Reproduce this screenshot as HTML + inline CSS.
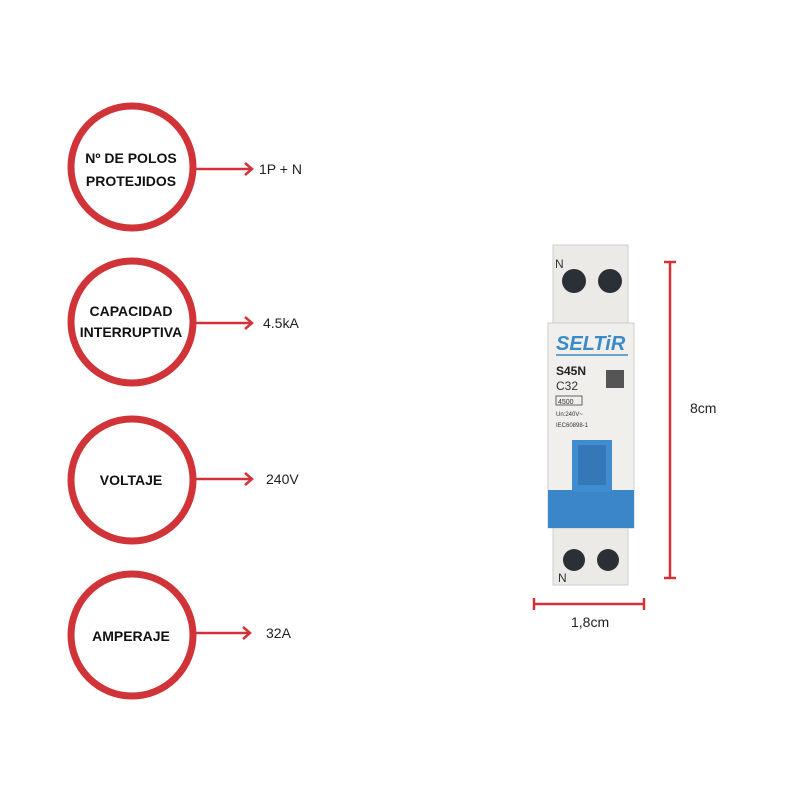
<!DOCTYPE html>
<html><head><style>
body{margin:0;width:800px;height:800px;background:#fff;overflow:hidden;font-family:"Liberation Sans",sans-serif}
</style></head><body>
<svg width="800" height="800" viewBox="0 0 800 800" xmlns="http://www.w3.org/2000/svg">
<g fill="none" stroke="#d13438" stroke-width="7">
<circle cx="132" cy="167" r="61"/>
<circle cx="132" cy="322" r="61"/>
<circle cx="132" cy="480" r="61"/>
<circle cx="132" cy="635" r="61"/>
</g>
<g stroke="#d13438" stroke-width="2.5" fill="none">
<line x1="195" y1="169" x2="252" y2="169"/><polyline points="245,163 252,169 245,175"/>
<line x1="195" y1="323" x2="252" y2="323"/><polyline points="245,317 252,323 245,329"/>
<line x1="195" y1="479" x2="252" y2="479"/><polyline points="245,473 252,479 245,485"/>
<line x1="195" y1="633" x2="250" y2="633"/><polyline points="243,627 250,633 243,639"/>
</g>
<g font-family="Liberation Sans,sans-serif" font-weight="bold" font-size="14" fill="#111" text-anchor="middle">
<text x="131" y="163">Nº DE POLOS</text><text x="131" y="186">PROTEJIDOS</text>
<text x="131" y="316">CAPACIDAD</text><text x="131" y="337">INTERRUPTIVA</text>
<text x="131" y="485">VOLTAJE</text>
<text x="131" y="641">AMPERAJE</text>
</g>
<g font-size="14" fill="#222">
<text x="259" y="174">1P + N</text>
<text x="263" y="328">4.5kA</text>
<text x="266" y="484">240V</text>
<text x="266" y="638">32A</text>
<text x="690" y="413">8cm</text>
<text x="571" y="627">1,8cm</text>
</g>
<g stroke="#d13438" stroke-width="2.5">
<line x1="670" y1="262" x2="670" y2="578"/><line x1="664" y1="262" x2="676" y2="262"/><line x1="664" y1="578" x2="676" y2="578"/>
<line x1="534" y1="604" x2="644" y2="604"/><line x1="534" y1="598" x2="534" y2="610"/><line x1="644" y1="598" x2="644" y2="610"/>
</g>
<!-- breaker -->
<rect x="553" y="245" width="75" height="340" fill="#eceae6" stroke="#ccc"/>
<rect x="548" y="323" width="86" height="205" fill="#f0efec" stroke="#ccc"/>
<circle cx="574" cy="281" r="12" fill="#2a3036"/><circle cx="610" cy="281" r="12" fill="#2a3036"/>
<circle cx="574" cy="560" r="11" fill="#2a3036"/><circle cx="608" cy="560" r="11" fill="#2a3036"/>
<text x="555" y="268" font-size="12" fill="#333">N</text>
<text x="558" y="582" font-size="12" fill="#333">N</text>
<text x="556" y="350" font-size="20" font-style="italic" font-weight="bold" fill="#3a8cc8">SELTiR</text>
<line x1="556" y1="355" x2="628" y2="355" stroke="#3a8cc8" stroke-width="1.5"/>
<text x="556" y="375" font-size="12" font-weight="bold" fill="#222">S45N</text>
<text x="556" y="390" font-size="12" fill="#333">C32</text>
<rect x="606" y="370" width="18" height="18" fill="#555"/>
<rect x="556" y="396" width="26" height="9" fill="none" stroke="#444" stroke-width="0.8"/>
<text x="558" y="404" font-size="7" fill="#333">4500</text>
<text x="556" y="416" font-size="6" fill="#333">Un:240V~</text>
<text x="556" y="427" font-size="6" fill="#333">IEC60898-1</text>
<rect x="548" y="490" width="86" height="38" fill="#3a86c8"/>
<rect x="572" y="440" width="40" height="52" fill="#3f8dd0"/>
<rect x="578" y="445" width="28" height="40" fill="#3478b8"/>
</svg>
</body></html>
